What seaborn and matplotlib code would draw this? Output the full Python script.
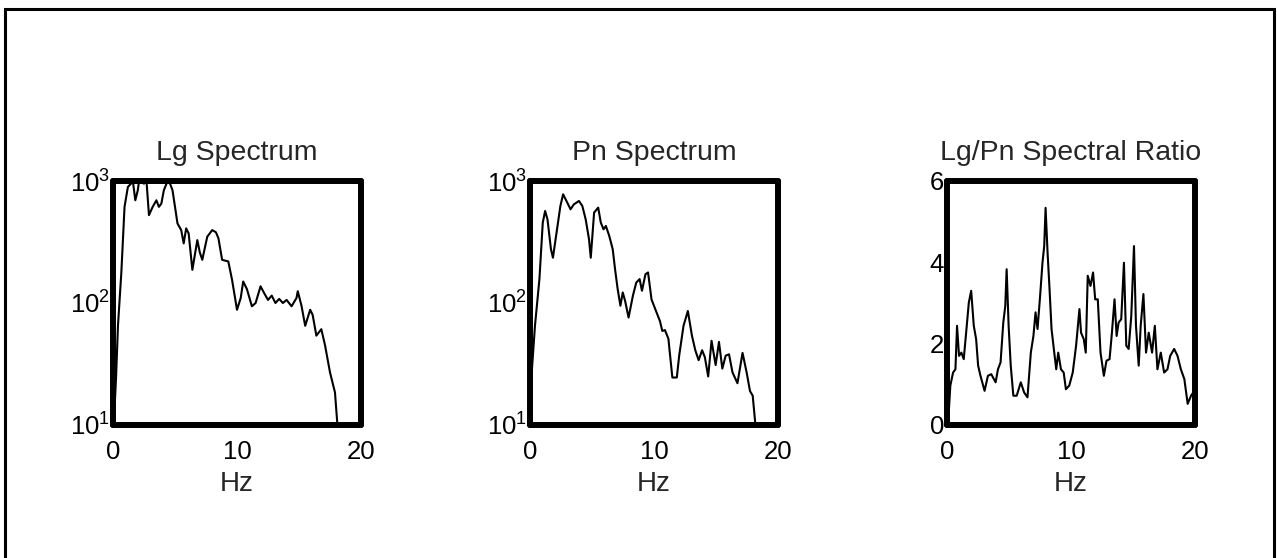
import numpy as np
import matplotlib
matplotlib.use("Agg")
import matplotlib.pyplot as plt
import seaborn as sns
from matplotlib.patches import Rectangle

sns.set_style("white")
plt.rcParams['font.family'] = ['Liberation Sans', 'DejaVu Sans']
plt.rcParams['mathtext.fontset'] = 'custom'
plt.rcParams['mathtext.rm'] = 'Liberation Sans'

# Lg spectrum (Hz, amplitude)
lg_hz = [0.1, 0.25, 0.4, 0.67, 0.93, 1.2, 1.45, 1.6, 1.8, 2.0, 2.1, 2.5, 2.7, 2.9,
         3.2, 3.5, 3.7, 3.9, 4.1, 4.4, 4.6, 4.8, 5.0, 5.2, 5.5, 5.7, 5.9, 6.1, 6.4,
         6.8, 7.0, 7.2, 7.6, 8.0, 8.3, 8.5, 8.8, 9.3, 9.6, 10.0, 10.3, 10.5, 10.8,
         11.2, 11.5, 11.9, 12.2, 12.5, 12.8, 13.1, 13.4, 13.7, 14.0, 14.4, 14.8,
         14.9, 15.2, 15.5, 15.9, 16.1, 16.4, 16.8, 17.1, 17.5, 17.9, 18.1, 18.3]
lg_amp = [12, 25, 65, 176, 614, 893, 951, 1000, 695, 839, 1000, 951, 1000, 525,
          614, 695, 614, 653, 839, 1000, 951, 839, 614, 449, 396, 308, 409, 372, 187,
          328, 260, 226, 349, 396, 380, 340, 226, 219, 155, 88, 110, 150, 130,
          94, 100, 137, 120, 106, 115, 100, 108, 100, 106, 94, 110,
          125, 95, 65, 88, 80, 54, 61, 45, 27, 18.5, 10, 8]

# Pn spectrum
pn_hz = [0.14, 0.4, 0.76, 1.03, 1.22, 1.41, 1.69, 1.85, 2.18, 2.45, 2.67, 2.94,
         3.27, 3.54, 3.95, 4.22, 4.49, 4.76, 4.9, 5.17, 5.5, 5.71, 5.93, 6.12, 6.39,
         6.67, 6.86, 7.07, 7.29, 7.48, 7.67, 7.95, 8.3, 8.57, 8.84, 9.03, 9.31, 9.52,
         9.8, 10.2, 10.48, 10.67, 10.88, 11.16, 11.48, 11.84, 12.03, 12.38, 12.73,
         13.06, 13.33, 13.6, 13.88, 14.1, 14.37, 14.64, 14.97, 15.24, 15.51, 15.78,
         16.05, 16.33, 16.73, 17.14, 17.47, 17.74, 17.96, 18.18]
pn_amp = [27, 65, 157, 456, 568, 485, 276, 235, 402, 624, 778, 686,
          586, 644, 686, 624, 485, 333, 235, 551, 605, 456, 402, 428, 355,
          276, 189, 130, 95, 122, 104, 76, 115, 147, 157, 126, 172, 178,
          107, 84, 71, 59, 60, 51, 24.5, 24.5, 37, 65, 86,
          54, 41, 34, 41, 36, 25, 49, 31, 48, 29, 37,
          38, 27, 22, 39, 27, 19, 17.4, 10]

# Lg/Pn spectral ratio
ratio_hz = [0.14, 0.27, 0.49, 0.68, 0.81, 0.97, 1.16, 1.35, 1.57, 1.76, 1.95, 2.16,
            2.35, 2.51, 2.7, 3.03, 3.3, 3.57, 3.92, 4.11, 4.32, 4.54, 4.7, 4.81, 4.97,
            5.14, 5.35, 5.62, 5.95, 6.22, 6.49, 6.76, 6.97, 7.14, 7.3, 7.51, 7.7, 7.84,
            7.95, 8.11, 8.27, 8.43, 8.65, 8.81, 8.97, 9.19, 9.41, 9.59, 9.86, 10.14,
            10.41, 10.68, 10.81, 11.03, 11.19, 11.35, 11.57, 11.78, 11.95, 12.16, 12.38,
            12.65, 12.86, 13.11, 13.3, 13.51, 13.68, 13.84, 14.05, 14.27, 14.46, 14.65,
            14.86, 15.08, 15.24, 15.46, 15.62, 15.84, 16.05, 16.27, 16.54, 16.76, 16.97,
            17.24, 17.51, 17.78, 18.0, 18.32, 18.59, 18.86, 19.14, 19.41, 19.68, 19.86]
ratio_val = [0.31, 0.97, 1.29, 1.37, 2.44, 1.7, 1.78, 1.62, 2.36, 3.01, 3.3, 2.44,
             2.11, 1.46, 1.21, 0.84, 1.21, 1.25, 1.05, 1.37, 1.54, 2.52, 2.93, 3.83, 2.44,
             1.46, 0.72, 0.72, 1.05, 0.8, 0.68, 1.78, 2.19, 2.77, 2.36, 3.18, 3.99, 4.4,
             5.34, 4.24, 3.34, 2.36, 1.78, 1.37, 1.78, 1.37, 1.29, 0.88, 0.97, 1.29,
             1.95, 2.85, 2.27, 2.11, 1.78, 3.67, 3.42, 3.75, 3.09, 3.09, 1.78,
             1.21, 1.58, 1.62, 2.27, 3.09, 2.19, 2.52, 2.6, 3.99, 1.95, 1.87,
             2.68, 4.4, 2.44, 1.46, 2.44, 3.22, 1.78, 2.27, 1.78, 2.44, 1.37,
             1.78, 1.29, 1.37, 1.7, 1.87, 1.7, 1.37, 1.13, 0.52, 0.72, 0.8]

titles = ["Lg Spectrum", "Pn Spectrum", "Lg/Pn Spectral Ratio"]

fig = plt.figure(figsize=(12.77, 5.58), dpi=100)

# outer frame
fig.patches.append(Rectangle((5 / 1277, -0.05), 1269 / 1277, 1.05 - 9 / 558,
                             transform=fig.transFigure, fill=False,
                             edgecolor="black", linewidth=2.2))

lefts = [113, 530, 947]
axes = [fig.add_axes([l / 1277, (558 - 425) / 558, 248 / 1277, 244 / 558]) for l in lefts]

series = [(lg_hz, lg_amp), (pn_hz, pn_amp), (ratio_hz, ratio_val)]
for i, (ax, (xs, ys)) in enumerate(zip(axes, series)):
    sns.lineplot(x=xs, y=ys, ax=ax, color="black", linewidth=1.5)
    ax.set_xlim(0, 20)
    ax.set_xticks([0, 10, 20])
    if i < 2:
        ax.set_yscale("log")
        ax.set_ylim(10, 1000)
        ax.set_yticks([10, 100, 1000])
        ax.minorticks_off()
    else:
        ax.set_ylim(0, 6)
        ax.set_yticks([0, 2, 4, 6])
    for s in ax.spines.values():
        s.set_visible(True)
        s.set_linewidth(4.3)
        s.set_color("black")
        s.set_capstyle("round")
    ax.tick_params(axis="both", length=0, labelsize=18.5, colors="black")
    ax.tick_params(axis="x", pad=11)
    ax.tick_params(axis="y", pad=2)
    ax.set_xlabel("Hz", fontsize=20, labelpad=5)
    ax.set_ylabel("")
    ax.set_title(titles[i], fontsize=20.5, pad=15)

fig.savefig("out.png", dpi=100, facecolor="white")
